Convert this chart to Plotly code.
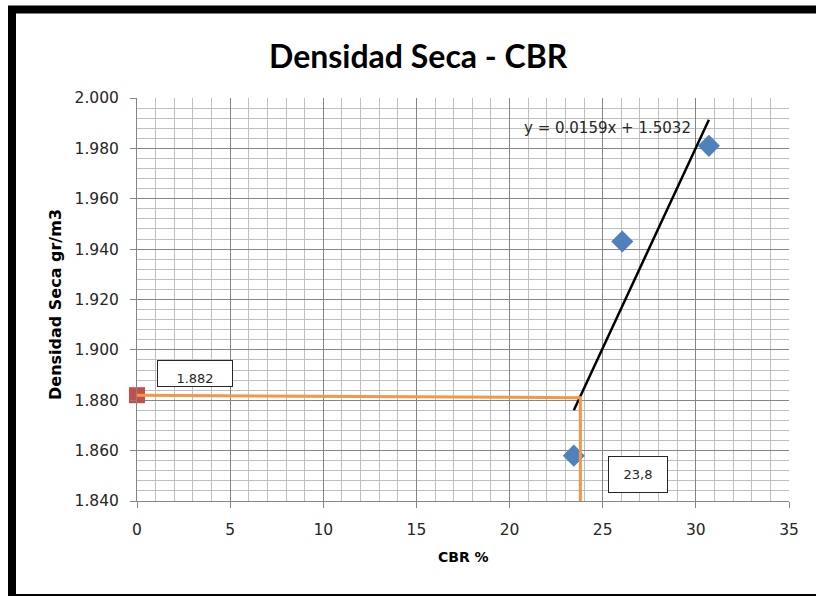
import plotly.graph_objects as go

# ---- data ----
cbr = [23.45, 26.05, 30.7]            # CBR %
densidad = [1.858, 1.943, 1.981]      # dry density gr/m3
slope = 0.0159
intercept = 1.5032
design_cbr = 23.8
design_dens = 1.882
guide_x = [0, 23.8, 23.8]
guide_y = [1.882, 1.881, 1.840]
x_ticks = [0, 5, 10, 15, 20, 25, 30, 35]
y_ticks = [1.840, 1.860, 1.880, 1.900, 1.920, 1.940, 1.960, 1.980, 2.000]

trend_x = [min(cbr), max(cbr)]
trend_y = [slope * v + intercept for v in trend_x]

W, H = 816, 596
L, R, T, B = 137, 27, 98, 95
PW, PH = W - L - R, H - T - B

def px(xp):
    return (xp - L) / PW

def py(yp):
    return (H - B - yp) / PH

fig = go.Figure()

fig.add_trace(go.Scatter(
    x=[0], y=[design_dens], mode="markers",
    marker=dict(symbol="square", size=16, color="#C0504D"),
    cliponaxis=False, showlegend=False, hoverinfo="skip"))

fig.add_trace(go.Scatter(
    x=cbr, y=densidad, mode="markers",
    marker=dict(symbol="diamond", size=17, color="#4F81BD"),
    cliponaxis=False, showlegend=False))

fig.add_trace(go.Scatter(
    x=trend_x, y=trend_y, mode="lines",
    line=dict(color="black", width=2.5),
    cliponaxis=False, showlegend=False))

fig.add_trace(go.Scatter(
    x=guide_x, y=guide_y, mode="lines",
    line=dict(color="#F79646", width=3),
    cliponaxis=False, showlegend=False))

tickfont = dict(family="DejaVu Sans", size=15.5, color="#262626")

fig.update_xaxes(
    range=[0, 35], tickvals=x_ticks, ticks="outside", ticklen=6,
    tickcolor="#868686", showline=True, linecolor="#868686", linewidth=1,
    showgrid=True, gridcolor="#868686", gridwidth=1, zeroline=False,
    minor=dict(dtick=1, showgrid=True, gridcolor="#BFBFBF", gridwidth=1),
    tickfont=tickfont, ticklabelstandoff=8,
)
fig.update_yaxes(
    range=[1.84, 2.0], tickvals=y_ticks, tickformat=".3f", ticks="outside",
    ticklen=6, tickcolor="#868686", showline=True, linecolor="#868686",
    linewidth=1, showgrid=True, gridcolor="#868686", gridwidth=1,
    zeroline=False,
    minor=dict(dtick=0.004, tick0=1.84, showgrid=True, gridcolor="#BFBFBF", gridwidth=1),
    tickfont=tickfont, ticklabelstandoff=8,
)

annotations = [
    dict(text="<b>Densidad Seca - CBR</b>", xref="paper", yref="paper",
         x=px(418), y=py(55), xanchor="center", yanchor="middle",
         showarrow=False, font=dict(family="Lato", size=32, color="black")),
    dict(text="<b>Densidad Seca gr/m3</b>", xref="paper", yref="paper",
         x=px(55), y=py(305), xanchor="center", yanchor="middle",
         textangle=-90, showarrow=False,
         font=dict(family="DejaVu Sans", size=16, color="black")),
    dict(text="<b>CBR %</b>", xref="paper", yref="paper",
         x=px(463), y=py(557), xanchor="center", yanchor="middle",
         showarrow=False, font=dict(family="DejaVu Sans", size=14, color="black")),
    dict(text=f"y = {slope}x + {intercept}", xref="paper", yref="paper",
         x=px(607), y=py(128), xanchor="center", yanchor="middle",
         showarrow=False, font=dict(family="DejaVu Sans", size=15, color="#262626")),
    dict(text=f"{design_dens:.3f}", xref="x", yref="y", x=0, y=design_dens,
         xshift=58, yshift=21.5, xanchor="center", yanchor="middle",
         width=74, height=25, valign="bottom", align="center",
         bordercolor="#262626", borderwidth=1, borderpad=0, bgcolor="white",
         showarrow=False, font=dict(family="DejaVu Sans", size=13, color="#262626")),
    dict(text=f"{design_cbr}".replace(".", ","), xref="x", yref="y",
         x=design_cbr, y=1.840, xshift=58, yshift=26.5,
         xanchor="center", yanchor="middle",
         width=58, height=35, valign="middle", align="center",
         bordercolor="#262626", borderwidth=1, borderpad=0, bgcolor="white",
         showarrow=False, font=dict(family="DejaVu Sans", size=13, color="#262626")),
]

shapes = [
    dict(type="rect", xref="paper", yref="paper",
         x0=px(12), x1=px(835), y0=py(9.5), y1=py(598),
         line=dict(color="black", width=8), fillcolor="rgba(0,0,0,0)",
         layer="above"),
]

fig.update_layout(
    width=W, height=H,
    margin=dict(l=L, r=R, t=T, b=B, autoexpand=False),
    paper_bgcolor="white", plot_bgcolor="white",
    showlegend=False, annotations=annotations, shapes=shapes,
    font=dict(family="DejaVu Sans"),
)

fig.write_html(
    "out.html",
    config={"displayModeBar": False},
    post_script="document.body.style.margin='0';document.body.style.overflow='hidden';",
)
